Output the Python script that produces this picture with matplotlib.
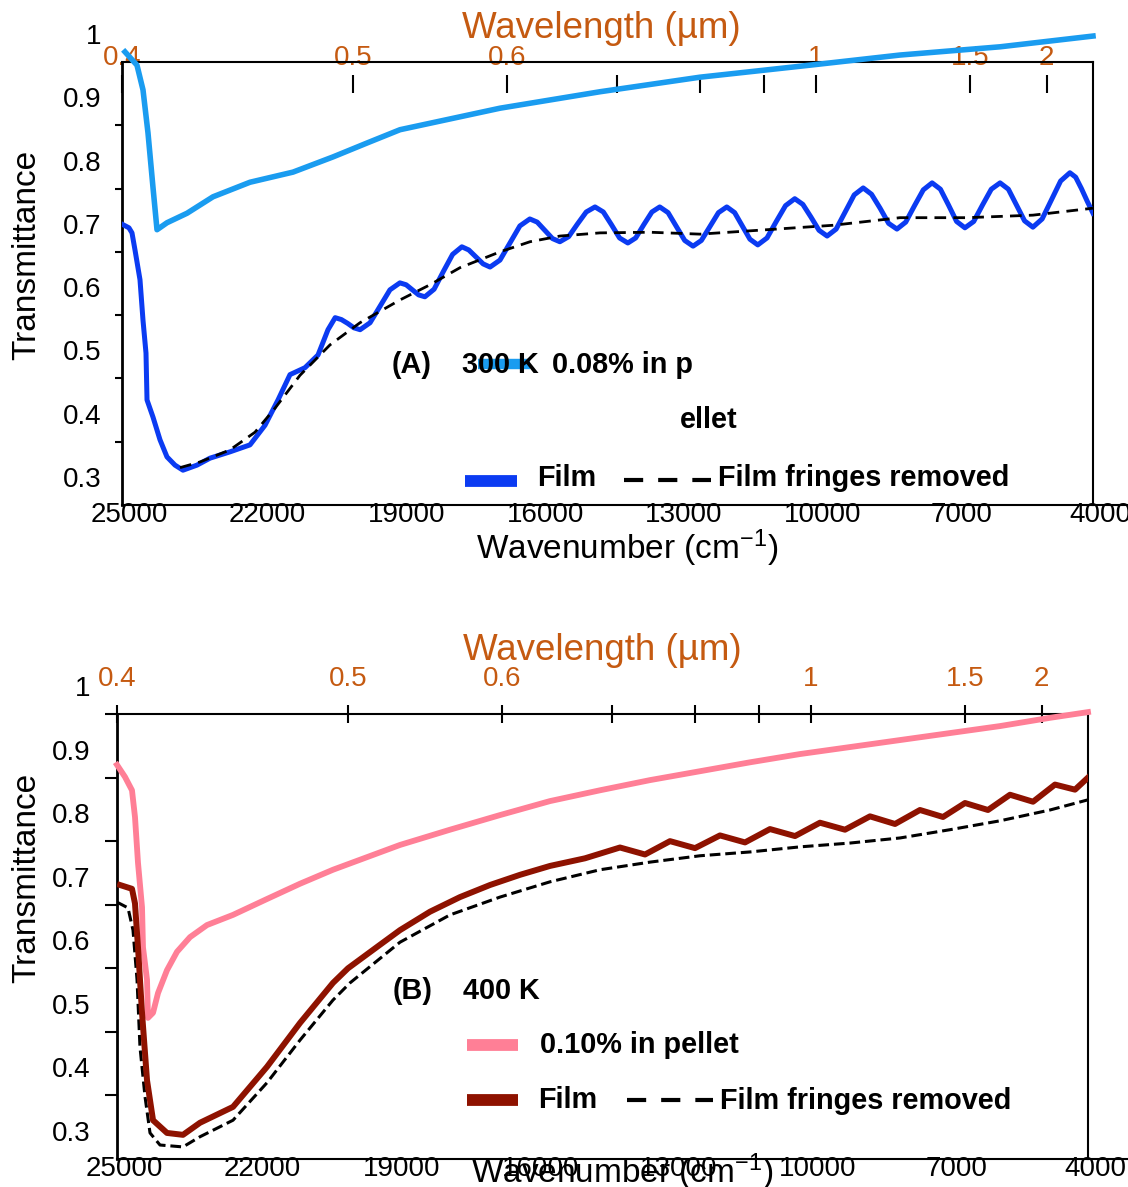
import numpy as np
import matplotlib.pyplot as plt
from matplotlib.lines import Line2D
from matplotlib.transforms import ScaledTranslation

plt.rcParams['font.family'] = ['Liberation Sans', 'DejaVu Sans']
plt.rcParams['mathtext.fontset'] = 'custom'
plt.rcParams['mathtext.rm'] = 'Liberation Sans'
plt.rcParams['mathtext.it'] = 'Liberation Sans:italic'

# Colours
orange = '#C55A11'
c_pellet_a = '#1A9CF0'
c_film_a = '#0B3BF2'
c_pellet_b = '#FF7F96'
c_film_b = '#8E1200'

# Axis ticks
wn_ticks = [25000, 22000, 19000, 16000, 13000, 10000, 7000, 4000]
t_ticks = [0.3, 0.4, 0.5, 0.6, 0.7, 0.8, 0.9, 1.0]
t_labels = ['0.3', '0.4', '0.5', '0.6', '0.7', '0.8', '0.9', '1']
um_ticks = [0.4, 0.5, 0.6, 0.7, 0.8, 0.9, 1, 1.5, 2]
um_labels = ['0.4', '0.5', '0.6', '', '', '', '1', '1.5', '2']

# (A) 300 K - 0.08% in pellet
wn_pellet_a = [24935, 24676, 24546, 24438, 24330, 24243, 24027, 23594, 23032, 22232,
               21302, 20437, 19701, 18988, 16825, 14662, 12500, 10121, 8174, 6011, 4000]
t_pellet_a = [1.016, 0.995, 0.956, 0.888, 0.802, 0.735, 0.746, 0.761, 0.787, 0.810,
              0.826, 0.850, 0.872, 0.893, 0.927, 0.953, 0.976, 0.995, 1.011, 1.024, 1.041]

# (A) film
wn_film_a = [24980, 24850, 24784, 24719, 24611, 24546, 24481, 24459, 24330, 24178,
             24027, 23854, 23681, 23378, 23097, 22664, 22232, 21907, 21626, 21367,
             21042, 20761, 20545,
             20390, 20255, 20120, 19985, 19850, 19635, 19420, 19205, 18990, 18855,
             18720, 18585, 18450, 18250, 18050, 17850, 17650, 17500, 17345, 17190,
             17040, 16825, 16610, 16395, 16180, 16020, 15855, 15690, 15530, 15340,
             15150, 14960, 14770, 14590, 14415, 14240, 14060, 13890, 13715, 13540,
             13370, 13190, 13010, 12830, 12650, 12470, 12285, 12100, 11920, 11750,
             11585, 11420, 11250, 11050, 10850, 10650, 10450, 10275, 10100, 9925,
             9750, 9555, 9360, 9165, 8970, 8790, 8605, 8420, 8240, 8050,
             7860, 7670, 7480, 7300, 7125, 6950, 6770, 6580, 6390, 6200,
             6010, 5830, 5655, 5480, 5300, 5100, 4900, 4700, 4500, 4375,
             4250, 4125, 4000]
t_film_a = [0.743, 0.738, 0.730, 0.703, 0.656, 0.592, 0.540, 0.466, 0.439, 0.403,
            0.376, 0.363, 0.355, 0.363, 0.374, 0.384, 0.395, 0.426, 0.466, 0.506,
            0.517, 0.537, 0.577,
            0.596, 0.593, 0.587, 0.580, 0.577, 0.588, 0.614, 0.640, 0.651, 0.648,
            0.640, 0.632, 0.629, 0.641, 0.669, 0.696, 0.708, 0.703, 0.692, 0.681,
            0.676, 0.687, 0.714, 0.741, 0.752, 0.747, 0.734, 0.721, 0.716, 0.724,
            0.744, 0.763, 0.771, 0.763, 0.743, 0.722, 0.714, 0.722, 0.743, 0.763,
            0.771, 0.762, 0.740, 0.718, 0.709, 0.718, 0.740, 0.762, 0.771, 0.762,
            0.741, 0.720, 0.711, 0.722, 0.748, 0.773, 0.784, 0.775, 0.755, 0.734,
            0.725, 0.736, 0.763, 0.790, 0.801, 0.791, 0.769, 0.745, 0.736, 0.747,
            0.773, 0.798, 0.809, 0.799, 0.774, 0.748, 0.738, 0.748, 0.774, 0.799,
            0.809, 0.799, 0.774, 0.749, 0.739, 0.752, 0.782, 0.812, 0.825, 0.818,
            0.800, 0.780, 0.761]

# (A) film, fringes removed
wn_nofr_a = [23746, 23313, 22667, 22124, 21691, 21150, 20502, 19853, 18988, 18339,
             17690, 16825, 16176, 15527, 14662, 13581, 12500, 11051, 9623, 8174,
             6725, 5298, 4000]
t_nofr_a = [0.359, 0.368, 0.387, 0.415, 0.453, 0.505, 0.553, 0.588, 0.624, 0.648,
            0.675, 0.700, 0.716, 0.725, 0.730, 0.731, 0.728, 0.735, 0.742, 0.754,
            0.754, 0.758, 0.769]

# (B) 400 K - 0.10% in pellet
wn_pellet_b = [25000, 24827, 24676, 24611, 24546, 24459, 24438, 24351, 24330, 24221,
               24113, 23919, 23702, 23421, 23054, 22491, 21756, 21042, 20329, 18880,
               17798, 16717, 15636, 14554, 13473, 12391, 11310, 10229, 9147, 8066,
               6985, 5903, 4822, 4000]
t_pellet_b = [0.920, 0.901, 0.880, 0.838, 0.766, 0.696, 0.633, 0.582, 0.522, 0.530,
              0.561, 0.597, 0.626, 0.649, 0.668, 0.684, 0.709, 0.733, 0.755, 0.794,
              0.818, 0.841, 0.863, 0.880, 0.896, 0.910, 0.924, 0.937, 0.948, 0.959,
              0.970, 0.981, 0.994, 1.003]

# (B) film
wn_film_b = [24935, 24676, 24611, 24546, 24459, 24351, 24221, 23919, 23573, 23205,
             22491, 21756, 21042, 20329, 20004, 19312, 18880, 18231, 17582, 16933,
             16285, 15636, 14879, 14122, 13581, 13040, 12500, 11959, 11418, 10878,
             10337, 9797, 9256, 8715, 8174, 7634, 7136, 6660, 6163, 5687,
             5189, 4714, 4281, 4000]
t_film_b = [0.731, 0.725, 0.702, 0.633, 0.530, 0.424, 0.361, 0.341, 0.338, 0.357,
            0.382, 0.445, 0.514, 0.577, 0.600, 0.637, 0.660, 0.689, 0.712, 0.731,
            0.747, 0.761, 0.773, 0.790, 0.779, 0.800, 0.789, 0.809, 0.798, 0.819,
            0.808, 0.829, 0.818, 0.839, 0.827, 0.849, 0.838, 0.860, 0.849, 0.873,
            0.862, 0.889, 0.881, 0.900]

# (B) film, fringes removed
wn_nofr_b = [25000, 24762, 24654, 24567, 24503, 24394, 24286, 24070, 23573, 23205,
             22491, 21756, 21042, 20329, 19961, 18880, 17798, 16717, 15636, 14554,
             13473, 12391, 11310, 10229, 9147, 8066, 6985, 5903, 4822, 4000]
t_nofr_b = [0.704, 0.695, 0.660, 0.582, 0.476, 0.398, 0.341, 0.322, 0.319, 0.335,
            0.361, 0.420, 0.487, 0.550, 0.577, 0.641, 0.684, 0.712, 0.736, 0.755,
            0.767, 0.777, 0.783, 0.791, 0.797, 0.805, 0.818, 0.832, 0.849, 0.865]


W, H = 1128, 1187
fig = plt.figure(figsize=(W / 100, H / 100), dpi=100)
ax_a = fig.add_axes([122 / W, 1 - 505 / H, 971 / W, 443 / H])
ax_b = fig.add_axes([117 / W, 1 - 1159 / H, 971 / W, 445 / H])

# Curves
ax_a.plot(wn_pellet_a, t_pellet_a, color=c_pellet_a, lw=4.0, clip_on=False, zorder=3)
ax_a.plot(wn_film_a, t_film_a, color=c_film_a, lw=3.6, zorder=3)
ax_a.plot(wn_nofr_a, t_nofr_a, color='black', lw=2.0, dashes=(4.2, 2.6), zorder=4)

ax_b.plot(wn_pellet_b, t_pellet_b, color=c_pellet_b, lw=4.2, clip_on=False, zorder=3)
ax_b.plot(wn_nofr_b, t_nofr_b, color='black', lw=2.2, dashes=(3.5, 1.6), zorder=3)
ax_b.plot(wn_film_b, t_film_b, color=c_film_b, lw=4.3, zorder=4)


def wn_to_um(w):
    w = np.asarray(w, dtype=float)
    with np.errstate(divide='ignore'):
        return 1e4 / w


def style_axes(ax, ytick_len, bottom_end, sec_loc, sec_pad, hide_top_tick):
    ax.set_xlim(25000, 4000)
    ax.set_ylim(0.3, 1.0)
    for side in ['left', 'right', 'top', 'bottom']:
        ax.spines[side].set_linewidth(1.5)
    ax.spines['left'].set_linewidth(2.0)
    ax.spines['bottom'].set_bounds(25000, bottom_end)

    ax.set_yticks(t_ticks, labels=t_labels)
    ax.tick_params(axis='y', direction='out', length=ytick_len, width=1.5,
                   labelsize=20, pad=10)
    ax.set_xticks(wn_ticks, labels=[str(v) for v in wn_ticks])
    ax.tick_params(axis='x', length=0, labelsize=20, pad=-2.5)

    ticks = ax.yaxis.get_major_ticks()
    ticks[0].tick1line.set_visible(False)
    if hide_top_tick:
        ticks[-1].tick1line.set_visible(False)
    # tick labels sit a little above their marks in the original
    for lab in ax.get_yticklabels():
        lab.set_transform(lab.get_transform() + ScaledTranslation(0, 0.28, fig.dpi_scale_trans))
    for lab in ax.get_xticklabels():
        lab.set_transform(lab.get_transform() + ScaledTranslation(0.07, 0, fig.dpi_scale_trans))

    sec = ax.secondary_xaxis(sec_loc, functions=(wn_to_um, wn_to_um))
    sec.set_xticks(um_ticks, labels=um_labels)
    sec.tick_params(direction='inout', length=13, width=1.5, labelsize=20,
                    labelcolor=orange, pad=sec_pad)
    sec.spines['top'].set_visible(False)
    return sec


sec_a = style_axes(ax_a, 5, 3243, 0.95, 3, True)
sec_b = style_axes(ax_b, 9, 3135, 1.0, 9, False)

ax_a.set_ylabel('Transmittance', fontsize=24)
ax_a.yaxis.set_label_coords(-0.098, 0.564)
ax_b.set_ylabel('Transmittance', fontsize=24)
ax_b.yaxis.set_label_coords(-0.093, 0.631)
for ax in (ax_a, ax_b):
    ax.yaxis.label.set_va('center')
for ax, yc in [(ax_a, -0.097), (ax_b, -0.03)]:
    ax.set_xlabel('Wavenumber (cm$^{\u2212 1}$)', fontsize=24)
    ax.xaxis.set_label_coords(0.52, yc)
    ax.xaxis.label.set_va('center')

sec_a.set_xlabel('Wavelength (\u00b5m)', fontsize=26.5, color=orange)
sec_a.xaxis.set_label_coords(0.494, (505 - 28) / 443, transform=ax_a.transAxes)
sec_a.xaxis.label.set_va('center')
sec_b.set_xlabel('Wavelength (\u00b5m)', fontsize=26.5, color=orange)
sec_b.xaxis.set_label_coords(0.5, (1159 - 651) / 445, transform=ax_b.transAxes)
sec_b.xaxis.label.set_va('center')


# Legend keys and annotations, placed as in the original
def fx(x):
    return x / W


def fy(y):
    return 1 - y / H


def key(x0, x1, y, **kw):
    fig.add_artist(Line2D([fx(x0), fx(x1)], [fy(y), fy(y)], transform=fig.transFigure, **kw))


def label(x, y, s):
    fig.text(fx(x), fy(y), s, fontsize=20.8, fontweight='bold', ha='left', va='center')


label(392, 365, '(A)')
label(462, 365, '300 K')
key(478, 530, 364, color=c_pellet_a, lw=7.5, solid_capstyle='butt')
label(552, 365, '0.08% in p')
label(680, 420, 'ellet')
key(465, 517, 481, color=c_film_a, lw=8.5, solid_capstyle='butt')
label(537, 478, 'Film')
key(624, 711, 480, color='black', lw=3, dashes=(4.6, 3.6), dash_capstyle='butt')
label(718, 478, 'Film fringes removed')

label(393, 991, '(B)')
label(463, 991, '400 K')
key(467, 518, 1045, color=c_pellet_b, lw=8.5, solid_capstyle='butt')
label(540, 1045, '0.10% in pellet')
key(467, 518, 1100, color=c_film_b, lw=8.5, solid_capstyle='butt')
label(538, 1100, 'Film')
key(627, 713, 1100, color='black', lw=3, dashes=(4.6, 3.6), dash_capstyle='butt')
label(720, 1101, 'Film fringes removed')

fig.savefig('out.png', dpi=100)
